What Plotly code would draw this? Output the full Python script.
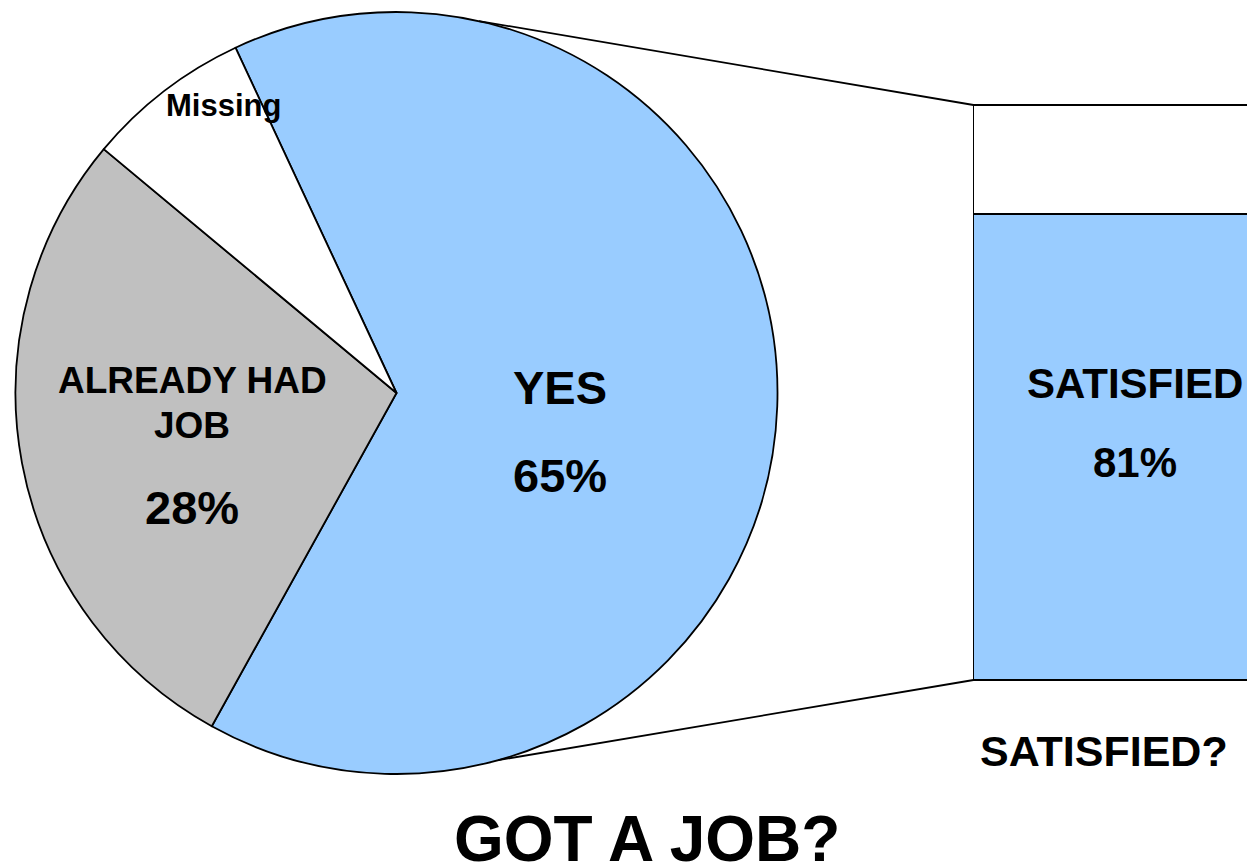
import math
import plotly.graph_objects as go

# --- data -------------------------------------------------------------
job_labels = ["YES", "ALREADY HAD JOB", "Missing"]
job_values = [65, 28, 7]
job_colors = ["#99CCFF", "#C0C0C0", "#FFFFFF"]

satisfied_labels = ["SATISFIED", "NOT SATISFIED"]
satisfied_values = [81, 19]
satisfied_colors = ["#99CCFF", "#FFFFFF"]

# --- layout constants (pixels) ---------------------------------------
W, H = 1247, 866
FONT = "Arial, 'Liberation Sans', Helvetica, sans-serif"
OUTLINE = dict(color="black", width=1.8)

PIE_X0, PIE_X1 = 14, 779
PIE_Y0, PIE_Y1 = 12, 774
PIE_ROTATION = -25
pie_cx = (PIE_X0 + PIE_X1) / 2
pie_cy = (PIE_Y0 + PIE_Y1) / 2
pie_r = min(PIE_X1 - PIE_X0, PIE_Y1 - PIE_Y0) / 2

BAR_LEFT, BAR_CENTER = 973.5, 1135
BAR_TOP, BAR_BOTTOM = 105, 680
bar_total = sum(satisfied_values)
x_px = 2 * (BAR_CENTER - BAR_LEFT)          # pixels per x unit (bar width = 1)
y_px = (BAR_BOTTOM - BAR_TOP) / bar_total   # pixels per percent
X_PAD, Y_PAD = 0.1, 2


def fx(px):
    return px / W


def fy(py):
    return 1 - py / H


fig = go.Figure()

# main pie
fig.add_trace(go.Pie(
    labels=job_labels,
    values=job_values,
    sort=False,
    direction="clockwise",
    rotation=PIE_ROTATION,
    marker=dict(colors=job_colors, line=OUTLINE),
    textinfo="none",
    hoverinfo="label+percent",
    domain=dict(x=[fx(PIE_X0), fx(PIE_X1)], y=[fy(PIE_Y1), fy(PIE_Y0)]),
    showlegend=False,
))

# breakdown bar of the YES slice
for lab, val, col in zip(satisfied_labels, satisfied_values, satisfied_colors):
    fig.add_trace(go.Bar(
        x=[0], y=[val], width=1, name=lab,
        marker=dict(color=col, line=OUTLINE),
        showlegend=False, hoverinfo="name+y",
    ))

x_range = [-0.5 - X_PAD, (W - BAR_CENTER) / x_px]
y_range = [-Y_PAD, bar_total + Y_PAD]
x_dom = [fx(BAR_CENTER + x_range[0] * x_px), 1.0]
y_dom = [fy(BAR_BOTTOM + Y_PAD * y_px), fy(BAR_TOP - Y_PAD * y_px)]

# connector lines from the pie edge to the bar corners
shapes = []
for ang, bar_y in ((12.5, BAR_TOP), (164.5, BAR_BOTTOM)):
    a = math.radians(ang)
    px = pie_cx + pie_r * math.sin(a)
    py = pie_cy - pie_r * math.cos(a)
    shapes.append(dict(
        type="line", xref="paper", yref="paper",
        x0=fx(px), y0=fy(py), x1=fx(BAR_LEFT), y1=fy(bar_y),
        line=dict(color="black", width=1.8), layer="above",
    ))


def label(text, px, py, size):
    return dict(
        text=text, x=fx(px), y=fy(py), xref="paper", yref="paper",
        xanchor="center", yanchor="middle", showarrow=False,
        font=dict(family=FONT, size=size, color="black", weight="bold"),
    )


annotations = [
    label(job_labels[0], 560, 387, 47),
    label(f"{job_values[0]}%", 560, 475, 47),
    label("ALREADY HAD", 192, 381, 37),
    label("JOB", 192, 425, 37),
    label(f"{job_values[1]}%", 192, 507, 47),
    label(job_labels[2], 223, 106, 31),
    label(satisfied_labels[0], BAR_CENTER, 384, 42),
    label(f"{satisfied_values[0]}%", BAR_CENTER, 462, 42),
    label("SATISFIED?", 1103.5, 751, 43),
    label("GOT A JOB?", 646.5, 839, 64),
]

fig.update_layout(
    width=W, height=H,
    margin=dict(l=0, r=0, t=0, b=0),
    paper_bgcolor="white", plot_bgcolor="rgba(0,0,0,0)",
    barmode="stack",
    xaxis=dict(domain=x_dom, range=x_range, visible=False, fixedrange=True),
    yaxis=dict(domain=y_dom, range=y_range, visible=False, fixedrange=True),
    shapes=shapes,
    annotations=annotations,
)

fig.write_html("out.html")
